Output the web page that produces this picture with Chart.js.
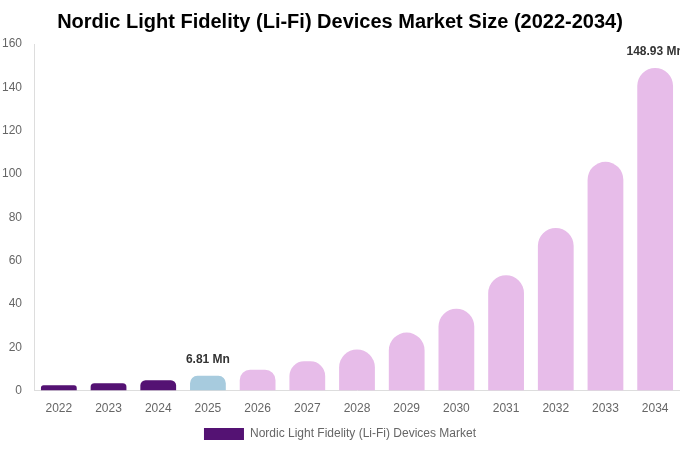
<!DOCTYPE html>
<html>
<head>
<meta charset="utf-8">
<script src="https://cdn.jsdelivr.net/npm/chart.js@4/dist/chart.umd.min.js"></script>
<style>
  html, body { margin: 0; padding: 0; background: #fff; }
  #wrap { width: 680px; height: 450px; }
</style>
</head>
<body>
<div id="wrap"><canvas id="market_size"></canvas></div>
<script>
  var years = ["2022", "2023", "2024", "2025", "2026", "2027", "2028", "2029", "2030", "2031", "2032", "2033", "2034"];
  var marketValues = [2.43, 3.42, 4.83, 6.81, 9.6, 13.5, 19.0, 26.8, 37.8, 53.3, 75.1, 105.6, 148.93];
  var yTicks = [0, 20, 40, 60, 80, 100, 120, 140, 160];
  var labelledYears = ["2025", "2034"];

  var seriesName = "Nordic Light Fidelity (Li-Fi) Devices Market";
  var pastColor = '#541273';
  var baseColor = '#a7cbde';
  var forecastColor = '#e7bce9';

  var barColors = years.map(function(y) {
      var n = parseInt(y, 10);
      if (n < 2025) return pastColor;
      if (n === 2025) return baseColor;
      return forecastColor;
  });

  // draws "x Mn" over the chosen bars
  var valueLabels = {
      id: 'valueLabels',
      afterDatasetsDraw: function(chart) {
          var ctx = chart.ctx;
          var meta = chart.getDatasetMeta(0);
          ctx.save();
          ctx.font = 'bold 12px "Liberation Sans", Arial, sans-serif';
          ctx.fillStyle = '#333';
          ctx.textAlign = 'center';
          ctx.textBaseline = 'middle';
          meta.data.forEach(function(bar, i) {
              if (labelledYears.indexOf(years[i]) < 0) return;
              ctx.fillText(marketValues[i] + ' Mn', bar.x, bar.y - 16);
          });
          ctx.restore();
      }
  };

  var marketChart = new Chart(document.getElementById("market_size"), {
      type: 'bar',
      data: {
          labels: years,
          datasets: [{
              label: seriesName,
              data: marketValues,
              backgroundColor: barColors,
              borderWidth: 0,
              borderRadius: 18,
              borderSkipped: 'bottom',
              barPercentage: 0.9,
              categoryPercentage: 0.8
          }]
      },
      options: {
          responsive: true,
          maintainAspectRatio: false,
          animation: false,
          layout: { padding: 0 },
          plugins: {
              title: {
                  display: true,
                  text: 'Nordic Light Fidelity (Li-Fi) Devices Market Size (2022-2034)',
                  color: '#000',
                  font: { family: '"Liberation Sans", Arial, sans-serif', size: 20, weight: 'bold' },
                  padding: { top: 10, bottom: 10 }
              },
              legend: {
                  position: 'bottom',
                  labels: {
                      boxWidth: 40,
                      boxHeight: 12,
                      padding: 10,
                      color: '#666',
                      font: { family: '"Liberation Sans", Arial, sans-serif', size: 12 },
                      generateLabels: function() {
                          return [{ text: seriesName, fillStyle: pastColor, strokeStyle: pastColor, lineWidth: 0, fontColor: '#666' }];
                      }
                  }
              },
              tooltip: { enabled: false }
          },
          scales: {
              x: {
                  afterFit: function(axis) {
                      axis.height = axis.height - 9;
                  },
                  grid: { display: false, drawTicks: false },
                  border: { display: true, color: '#ddd' },
                  ticks: { color: '#666', font: { family: '"Liberation Sans", Arial, sans-serif', size: 12 }, padding: 11 }
              },
              y: {
                  min: 0,
                  max: 160,
                  afterBuildTicks: function(axis) {
                      axis.ticks = yTicks.map(function(v) { return { value: v }; });
                  },
                  afterFit: function(axis) {
                      axis.width = 34;
                  },
                  grid: { display: false, drawTicks: false },
                  border: { display: true, color: '#ddd' },
                  ticks: { color: '#666', font: { family: '"Liberation Sans", Arial, sans-serif', size: 12 }, padding: 12 }
              }
          }
      },
      plugins: [valueLabels]
  });
</script>
</body>
</html>
